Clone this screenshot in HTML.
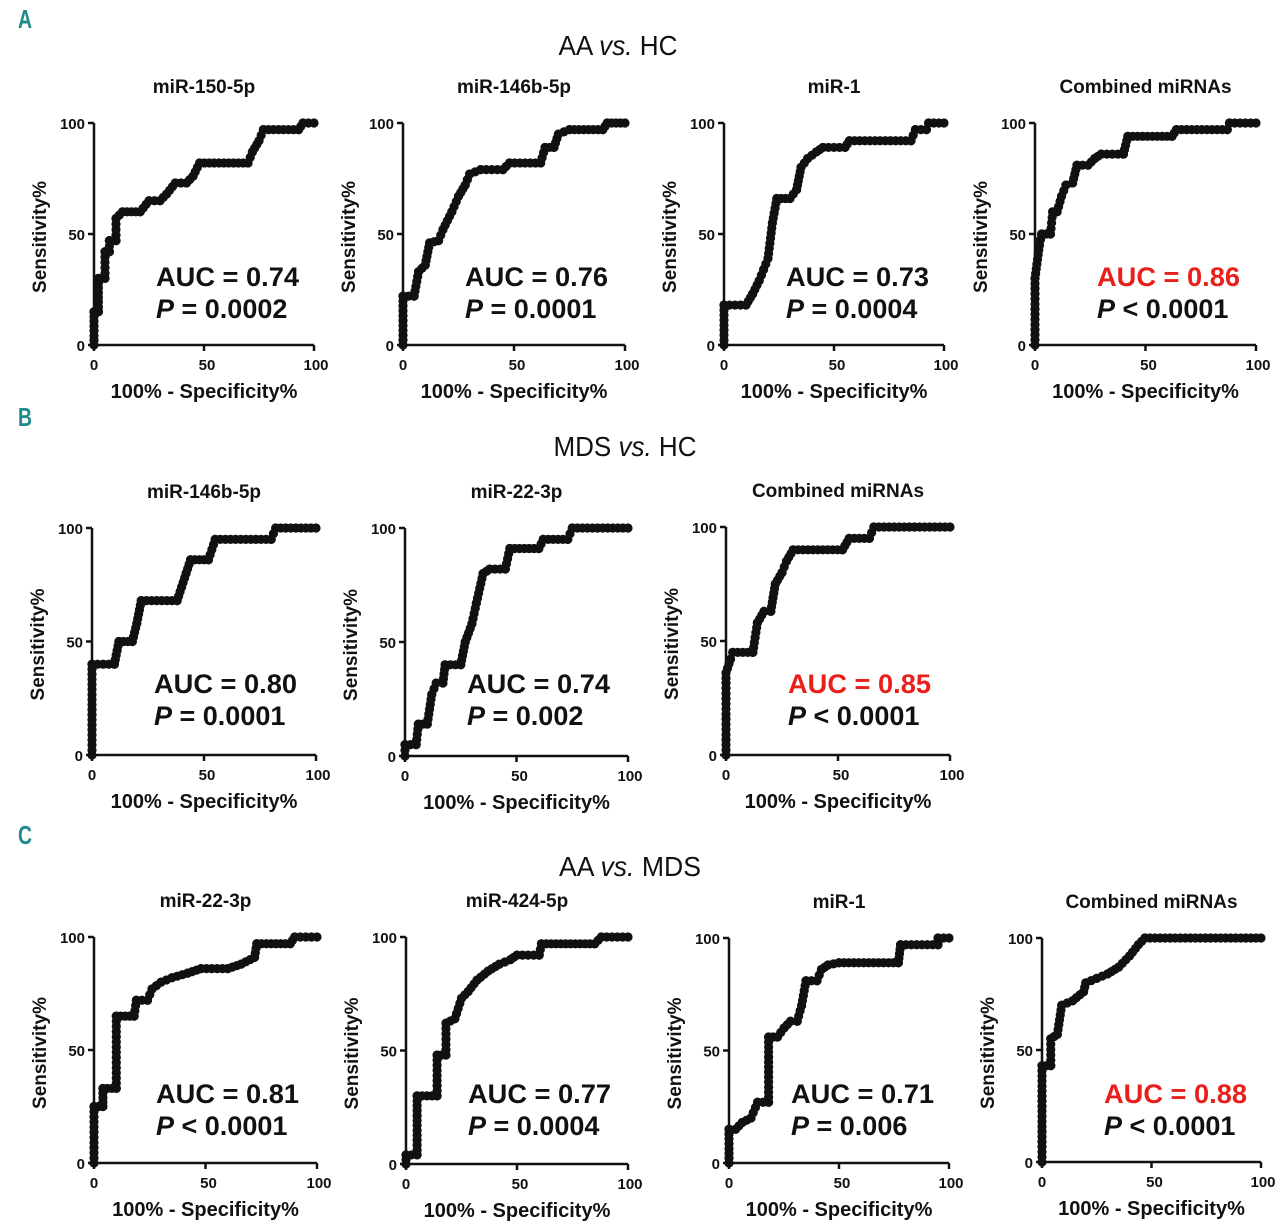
<!DOCTYPE html>
<html><head><meta charset="utf-8"><style>
body{margin:0;background:#fff;}
svg{display:block;font-family:"Liberation Sans",Arial,sans-serif;}
</style></head><body>
<svg id="fig" width="1280" height="1230" viewBox="0 0 1280 1230" xmlns="http://www.w3.org/2000/svg">
<text x="18" y="28" font-size="26" font-weight="bold" fill="#1f8a8c" textLength="14" lengthAdjust="spacingAndGlyphs">A</text>
<text x="18" y="426" font-size="26" font-weight="bold" fill="#1f8a8c" textLength="14" lengthAdjust="spacingAndGlyphs">B</text>
<text x="18" y="844" font-size="26" font-weight="bold" fill="#1f8a8c" textLength="14" lengthAdjust="spacingAndGlyphs">C</text>
<text x="618" y="55" font-size="28" text-anchor="middle" fill="#111" textLength="119" lengthAdjust="spacingAndGlyphs">AA <tspan font-style="italic">vs.</tspan> HC</text>
<text x="625" y="456" font-size="28" text-anchor="middle" fill="#111" textLength="143" lengthAdjust="spacingAndGlyphs">MDS <tspan font-style="italic">vs.</tspan> HC</text>
<text x="630" y="876" font-size="28" text-anchor="middle" fill="#111" textLength="142" lengthAdjust="spacingAndGlyphs">AA <tspan font-style="italic">vs.</tspan> MDS</text>
</svg>
<script>
// ROC data: [100%-specificity, sensitivity] step vertices per panel
const curveA1 = [[0,0],[0,15],[2,15],[2,30],[5,30],[5,42],[7,42],[7,47],[10,47],[10,57],[13,60],[21,60],[25,65],[30,65],[33,68],[37,73],[42,73],[45,76],[48,82],[70,82],[72,87],[75,92],[77,97],[93,97],[95,100],[100,100]];
const curveA2 = [[0,0],[0,22],[5,22],[7,33],[10,36],[12,46],[16,47],[18,52],[22,60],[25,67],[28,72],[30,77],[35,79],[45,79],[48,82],[62,82],[64,89],[68,89],[70,95],[75,97],[90,97],[92,100],[100,100]];
const curveA3 = [[0,0],[0,18],[10,18],[13,23],[16,29],[18,34],[20,39],[22,55],[24,66],[30,66],[33,70],[35,80],[38,84],[42,87],[45,89],[55,89],[57,92],[85,92],[87,97],[92,97],[93,100],[100,100]];
const curveA4 = [[0,0],[0,30],[2,45],[3,50],[7,50],[8,60],[10,60],[12,67],[14,72],[17,73],[19,81],[24,81],[27,84],[30,86],[40,86],[42,94],[62,94],[64,97],[87,97],[88,100],[100,100]];
const curveB1 = [[0,0],[0,40],[10,40],[12,50],[18,50],[20,58],[22,68],[38,68],[40,74],[42,80],[44,86],[52,86],[55,95],[80,95],[82,100],[100,100]];
const curveB2 = [[0,0],[0,5],[5,5],[6,14],[10,14],[12,27],[14,32],[17,32],[18,40],[25,40],[27,50],[30,58],[32,67],[35,80],[38,82],[45,82],[47,91],[60,91],[62,95],[73,95],[75,100],[100,100]];
const curveB3 = [[0,0],[0,36],[2,42],[3,45],[12,45],[14,58],[17,63],[20,63],[22,75],[25,80],[27,85],[30,90],[52,90],[55,95],[64,95],[66,100],[100,100]];
const curveC1 = [[0,0],[0,25],[4,25],[4,33],[10,33],[10,65],[18,65],[19,72],[24,72],[26,77],[30,80],[35,82],[42,84],[48,86],[60,86],[66,88],[72,91],[73,97],[88,97],[90,100],[100,100]];
const curveC2 = [[0,0],[0,4],[5,4],[5,30],[14,30],[14,48],[18,48],[18,62],[22,64],[25,73],[28,76],[32,81],[37,85],[42,88],[47,90],[50,92],[60,92],[61,97],[85,97],[88,100],[100,100]];
const curveC3 = [[0,0],[0,15],[3,15],[6,18],[10,20],[13,27],[18,27],[18,56],[22,56],[25,60],[28,63],[31,63],[33,70],[35,81],[40,81],[42,86],[45,88],[50,89],[77,89],[78,97],[95,97],[95,100],[100,100]];
const curveC4 = [[0,0],[0,43],[4,43],[4,55],[7,57],[9,70],[14,72],[19,76],[20,80],[25,82],[30,84],[35,87],[40,92],[44,97],[47,100],[100,100]];
const titles = ["miR-150-5p","miR-146b-5p","miR-1","Combined miRNAs","miR-146b-5p","miR-22-3p","Combined miRNAs","miR-22-3p","miR-424-5p","miR-1","Combined miRNAs"];
const aucLabels = ["AUC = 0.74","AUC = 0.76","AUC = 0.73","AUC = 0.86","AUC = 0.80","AUC = 0.74","AUC = 0.85","AUC = 0.81","AUC = 0.77","AUC = 0.71","AUC = 0.88"];
const pLabels = [" = 0.0002"," = 0.0001"," = 0.0004"," < 0.0001"," = 0.0001"," = 0.002"," < 0.0001"," < 0.0001"," = 0.0004"," = 0.006"," < 0.0001"];
const tickLabels = ["0","50","100"];
const tickValues = [0,50,100];

const curves=[curveA1,curveA2,curveA3,curveA4,curveB1,curveB2,curveB3,curveC1,curveC2,curveC3,curveC4];
const highlight=[false,false,false,true,false,false,true,false,false,false,true];
const layout=[[94,314,345,123],[403,625,345,123],[724,944,345,123],[1035,1256,345,123],
[92,316,755,528],[405,628,756,528],[726,950,755,527],
[94,317,1163,937],[406,628,1164,937],[729,949,1163,938],[1042,1261,1162,938]];
const svg=document.getElementById('fig');
const NS='http://www.w3.org/2000/svg';
function mk(tag,attrs,parent){const e=document.createElementNS(NS,tag);for(const k in attrs)e.setAttribute(k,attrs[k]);parent.appendChild(e);return e;}
curves.forEach((c,i)=>{
  const [x0,x1,y0,y1]=layout[i];
  const sx=v=>x0+(x1-x0)*v/100, sy=v=>y0-(y0-y1)*v/100;
  const g=mk('g',{},svg);
  
  
  const cx=(x0+x1)/2, cy=(y0+y1)/2;
  const t=mk('text',{x:cx,y:y1-30,'font-size':19,'font-weight':'bold','text-anchor':'middle',fill:'#111'},g);t.textContent=titles[i];
  
  
  const ax=mk('path',{d:`M${x0},${y1} V${y0} H${x1}`,stroke:'#111','stroke-width':2.5,fill:'none'},g);
  
  
  tickValues.forEach((v,k)=>{
    mk('line',{x1:x0-6,x2:x0,y1:sy(v),y2:sy(v),stroke:'#111','stroke-width':2.5},g);
    mk('line',{x1:sx(v),x2:sx(v),y1:y0,y2:y0+6,stroke:'#111','stroke-width':2.5},g);
    const yl=mk('text',{x:x0-9,y:sy(v)+6,'font-size':15,'font-weight':'bold','text-anchor':'end',fill:'#111'},g);yl.textContent=tickLabels[k];
    
    
    const xl=mk('text',{x:sx(v)+(k==0?0:k==2?2:3),y:y0+25,'font-size':15,'font-weight':'bold','text-anchor':'middle',fill:'#111'},g);xl.textContent=tickLabels[k];
    
    
  });
  const xt=mk('text',{x:cx,y:y0+53,'font-size':20,'font-weight':'bold','text-anchor':'middle',fill:'#111'},g);xt.textContent='100% - Specificity%';
  
  
  const yt=mk('text',{x:0,y:0,'font-size':19,'font-weight':'bold','text-anchor':'middle',fill:'#111',transform:`translate(${x0-48},${cy+3}) rotate(-90)`},g);yt.textContent='Sensitivity%';
  
  
  const pts=c.map(p=>[sx(p[0]),sy(p[1])]);
  for(let s=0;s<pts.length-1;s++){
    const [ax1,ay1]=pts[s],[bx,by]=pts[s+1];
    const L=Math.hypot(bx-ax1,by-ay1);const n=Math.max(1,Math.round(L/5));
    for(let j=0;j<=n;j++){
      const d=mk('circle',{cx:ax1+(bx-ax1)*j/n,cy:ay1+(by-ay1)*j/n,r:4.6,fill:'#111'},g);
      
      
    }
  }
  const tx=x0+62, ty=(i<4?286:i<7?693:1103);
  const a=mk('text',{x:tx,y:ty,'font-size':27,'font-weight':'bold',fill:highlight[i]?'#e8201c':'#111',textLength:143,lengthAdjust:'spacingAndGlyphs'},g);a.textContent=aucLabels[i];
  
  
  const p=mk('text',{x:tx,y:ty+32,'font-size':27,'font-weight':'bold',fill:'#111'},g);
  
  
  const ip=mk('tspan',{'font-style':'italic'},p);ip.textContent='P';
  const rest=mk('tspan',{},p);rest.textContent=pLabels[i];
});
</script>
</body></html>
